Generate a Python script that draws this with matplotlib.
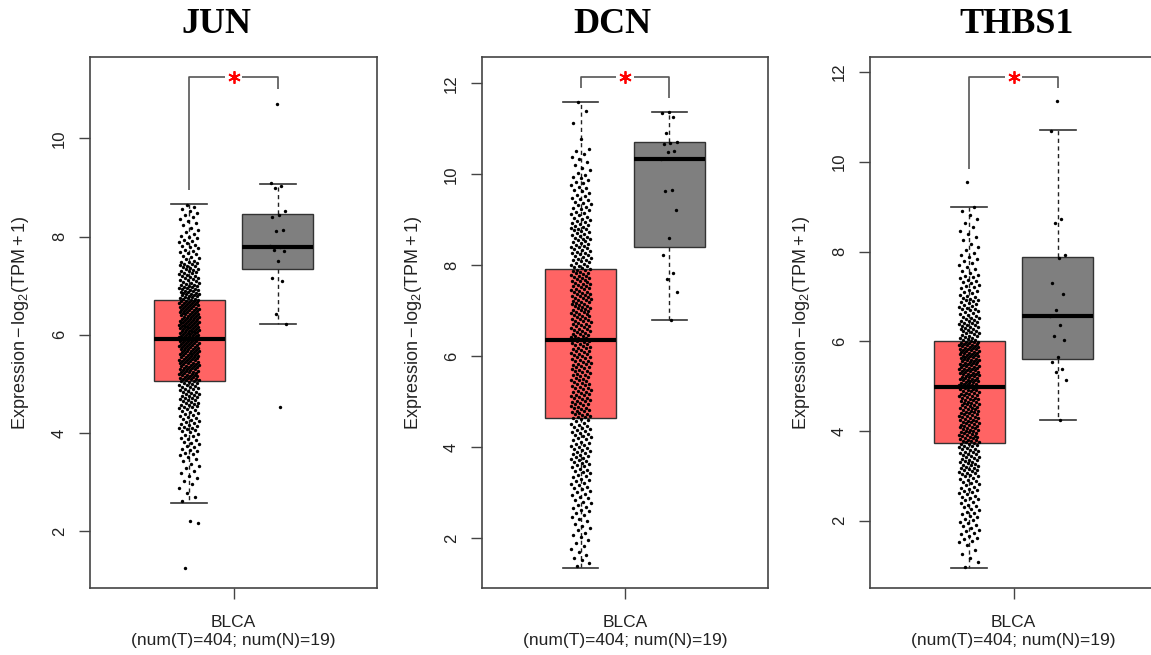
import numpy as np
import matplotlib
matplotlib.use("Agg")
import matplotlib.pyplot as plt
from matplotlib.ticker import MultipleLocator

plt.rcParams["font.family"] = ["Liberation Sans", "DejaVu Sans"]
plt.rcParams["mathtext.fontset"] = "custom"
plt.rcParams["mathtext.rm"] = "Liberation Sans"
plt.rcParams["mathtext.it"] = "Liberation Sans:italic"
plt.rcParams["mathtext.bf"] = "Liberation Sans:bold"

# ---------------- data ----------------
genes = ["JUN", "DCN", "THBS1"]
cancer = "BLCA"
n_tumor = 404
n_normal = 19
xtick_label = f"{cancer}\n(num(T)={n_tumor}; num(N)={n_normal})"
ylabel = r"$\mathregular{Expression - log_2(TPM + 1)}$"

# tumor points: density read as counts per value bin, plus isolated points
jun_tumor_edges = [2.57, 3.0, 3.5, 4.0, 4.5, 5.06, 5.5, 5.92, 6.3, 6.71, 7.0, 7.5, 8.0, 8.66]
jun_tumor_counts = [5, 10, 18, 25, 40, 50, 51, 52, 49, 30, 35, 20, 16]
jun_tumor_extra = [1.25, 2.17, 2.20]

dcn_tumor_edges = [1.35, 2.0, 2.5, 3.0, 3.5, 4.0, 4.65, 5.2, 5.8, 6.37, 6.9, 7.4, 7.93,
                   8.5, 9.0, 9.5, 10.0, 10.6, 11.3, 11.7]
dcn_tumor_counts = [10, 10, 14, 17, 22, 28, 33, 34, 34, 34, 34, 33, 30, 25, 18, 14, 10, 2, 2]
dcn_tumor_extra = []

thbs1_tumor_edges = [0.93, 1.5, 2.0, 2.5, 3.0, 3.73, 4.35, 4.99, 5.5, 6.0, 6.5, 7.0, 7.5,
                     8.0, 8.5, 9.05]
thbs1_tumor_counts = [6, 14, 16, 20, 45, 50, 51, 50, 51, 33, 25, 18, 11, 7, 6]
thbs1_tumor_extra = [9.55]

# normal points (19 each)
jun_normal = [10.71, 9.09, 9.04, 8.99, 8.53, 8.45, 8.41, 8.14, 8.12, 7.81, 7.79, 7.72,
              7.70, 7.51, 7.15, 7.10, 6.43, 6.21, 4.53]
dcn_normal = [11.38, 11.36, 11.27, 10.91, 10.72, 10.69, 10.67, 10.51, 10.50, 10.33,
              9.65, 9.63, 9.21, 8.60, 8.23, 7.84, 7.70, 7.41, 6.79]
thbs1_normal = [11.35, 10.69, 8.72, 8.64, 7.92, 7.85, 7.30, 7.06, 6.69, 6.56, 6.36,
                6.11, 6.02, 5.64, 5.55, 5.38, 5.31, 5.14, 4.25]

# box statistics: [lower whisker, Q1, median, Q3, upper whisker]
jun_tumor_box = [2.57, 5.06, 5.92, 6.71, 8.66]
jun_normal_box = [6.21, 7.33, 7.79, 8.46, 9.08]
dcn_tumor_box = [1.35, 4.65, 6.37, 7.93, 11.60]
dcn_normal_box = [6.79, 8.41, 10.33, 10.71, 11.38]
thbs1_tumor_box = [0.95, 3.73, 4.99, 6.00, 9.00]
thbs1_normal_box = [4.25, 5.60, 6.56, 7.87, 10.70]

significance = ["*", "*", "*"]

tumor_edges = [jun_tumor_edges, dcn_tumor_edges, thbs1_tumor_edges]
tumor_counts = [jun_tumor_counts, dcn_tumor_counts, thbs1_tumor_counts]
tumor_extra = [jun_tumor_extra, dcn_tumor_extra, thbs1_tumor_extra]
normals = [jun_normal, dcn_normal, thbs1_normal]
tumor_boxes = [jun_tumor_box, dcn_tumor_box, thbs1_tumor_box]
normal_boxes = [jun_normal_box, dcn_normal_box, thbs1_normal_box]

# ---------------- styling / layout ----------------
W, H = 1151, 655
TUMOR_COLOR = "#FF6464"
NORMAL_COLOR = "#7F7F7F"
FRAME = "#444444"
TEXT = "#222222"

# axes frames in pixels (left, right, top, bottom)
frames = [(90, 377, 57, 587.5), (482, 768, 57, 587.5), (870, 1157, 57, 587.5)]
title_x = [216, 612, 1017]


def expand_bins(edges, counts):
    vals = []
    for lo, hi, n in zip(edges[:-1], edges[1:], counts):
        vals.extend(lo + (np.arange(n) + 0.5) * (hi - lo) / n)
    return np.array(vals)


def jitter(n, width, phase):
    k = np.arange(n)
    return ((k * 0.6180339887 + phase) % 1.0 - 0.5) * 2 * width


def box_stats(b):
    return dict(whislo=b[0], q1=b[1], med=b[2], q3=b[3], whishi=b[4], fliers=[])


fig = plt.figure(figsize=(W / 100, H / 100), dpi=100)
fig.patch.set_facecolor("white")

for i, gene in enumerate(genes):
    l, r, t, b = frames[i]
    ax = fig.add_axes([l / W, 1 - b / H, (r - l) / W, (b - t) / H])

    tvals = np.sort(np.concatenate([expand_bins(tumor_edges[i], tumor_counts[i]),
                                    np.array(tumor_extra[i], dtype=float)]))
    nvals = np.array(normals[i], dtype=float)

    bp = ax.bxp([box_stats(tumor_boxes[i]), box_stats(normal_boxes[i])],
                positions=[1, 2], widths=0.8, patch_artist=True, showfliers=False,
                boxprops=dict(edgecolor="#333333", linewidth=1.0),
                medianprops=dict(color="black", linewidth=3.0, solid_capstyle="butt"),
                whiskerprops=dict(color="#222222", linestyle=(0, (3, 2.5)), linewidth=1.0),
                capprops=dict(color="#333333", linewidth=1.2))
    bp["boxes"][0].set_facecolor(TUMOR_COLOR)
    bp["boxes"][1].set_facecolor(NORMAL_COLOR)
    for artist in bp["boxes"] + bp["medians"] + bp["whiskers"] + bp["caps"]:
        artist.set_zorder(2)

    ax.scatter(1 + jitter(len(tvals), 0.115, 0.31), tvals, s=6, c="black",
               linewidths=0, zorder=3)
    ax.scatter(2 + jitter(len(nvals), 0.095, 0.47), nvals, s=6, c="black",
               linewidths=0, zorder=3)

    # significance bracket
    tmax = max(tvals.max(), tumor_boxes[i][4])
    nmax = max(nvals.max(), normal_boxes[i][4])
    top = max(tmax, nmax) + 0.55
    lc = "#555555"
    ax.plot([1, 1, 1.4], [tmax + 0.29, top, top], color=lc, lw=1.2, zorder=2,
            solid_capstyle="butt")
    ax.plot([1.6, 2, 2], [top, top, nmax + 0.29], color=lc, lw=1.2, zorder=2,
            solid_capstyle="butt")
    ax.plot([1.5], [top], marker=(6, 2, 0), markersize=9, markeredgewidth=1.3,
            color="#FF0000", linestyle="none", zorder=4)

    lo = min(tvals.min(), tumor_boxes[i][0])
    span = top - lo
    ax.set_ylim(lo - 0.04 * span, top + 0.04 * span)
    ax.set_xlim(-0.115, 3.115)

    ax.yaxis.set_major_locator(MultipleLocator(2))
    ax.set_xticks([1.5])
    ax.set_xticklabels([xtick_label], fontsize=12.5, color=TEXT, linespacing=1.2)
    for lab in ax.get_yticklabels():
        lab.set_rotation(90)
        lab.set_verticalalignment("center")
    ax.tick_params(axis="y", labelsize=12, labelcolor=TEXT, length=8, width=1.0,
                   color=FRAME, pad=8.5, rotation=90)
    ax.tick_params(axis="x", length=8, width=1.0, color=FRAME, pad=12)
    for sp in ax.spines.values():
        sp.set_color(FRAME)
        sp.set_linewidth(1.2)

    ax.text(-69 / (r - l), 0.5, ylabel, transform=ax.transAxes, rotation=90,
            ha="center", va="center", fontsize=13, color=TEXT)

    fig.text(title_x[i] / W, 1 - 33 / H, gene, ha="center", va="baseline",
             fontsize=26, fontweight="bold", family="Liberation Serif", color="black")

fig.savefig("out.png", dpi=100, facecolor="white")
